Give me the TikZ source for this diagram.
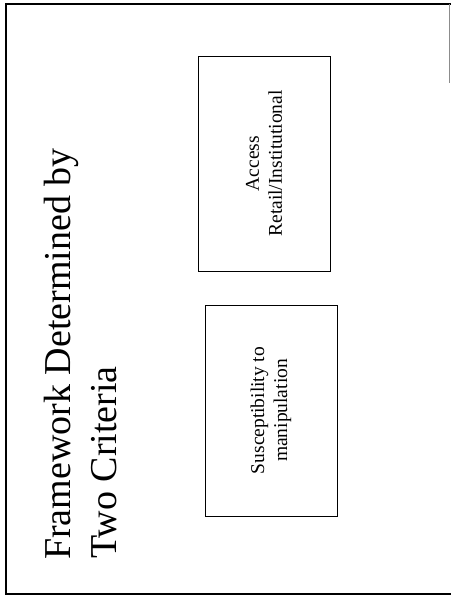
\documentclass[tikz,border=0pt]{standalone}
\usepackage{fontspec}
\setmainfont{Liberation Serif}
\begin{document}
\begin{tikzpicture}[x=1pt,y=-1pt,
  frameline/.style={line width=1.4pt,black},
  titletext/.style={rotate=90,inner sep=0pt,anchor=base west,font=\fontsize{38}{45}\selectfont},
  critbox/.style={draw,line width=0.9pt,rotate=90,align=center,inner sep=0pt,
    font=\fontsize{19.5}{23}\selectfont}]
  \useasboundingbox (0,0) rectangle (451,601);
  % slide frame, cut off at the right-hand edge
  \draw[frameline] (451,4) -- (6,4) -- (6,594) -- (451,594);
  \draw[line width=1pt,black!45] (449.5,4) -- (449.5,83);
  % title, two lines set sideways
  \node[titletext] (title1) at (70,560) {Framework Determined by};
  \node[titletext] (title2) at (116,559) {Two Criteria};
  % the two criteria
  \node[critbox,minimum width=215pt,minimum height=132pt] (access) at (264,163.5)
    {Access\\Retail/Institutional};
  \node[critbox,minimum width=211pt,minimum height=132pt] (suscept) at (271,410.5)
    {Susceptibility to\\manipulation};
\end{tikzpicture}
\end{document}
